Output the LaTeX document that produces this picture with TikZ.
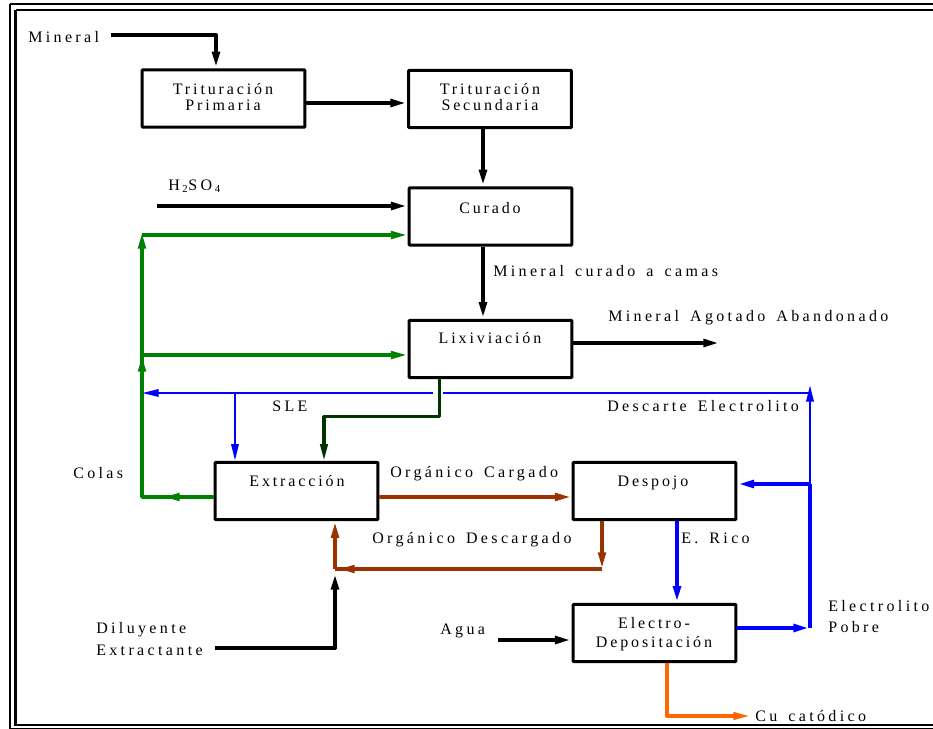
\documentclass[tikz,border=0pt]{standalone}
\usepackage{fontspec}
\setmainfont{Liberation Serif}[LetterSpace=18]
\newfontfamily\lblfont{Liberation Serif}[LetterSpace=21,WordSpace=1.5]
\usetikzlibrary{arrows.meta,calc}
\definecolor{cgreen}{RGB}{0,128,0}
\definecolor{dgreen}{RGB}{0,51,0}
\definecolor{cblue}{RGB}{0,0,255}
\definecolor{cbrown}{RGB}{153,51,0}
\definecolor{corange}{RGB}{255,102,0}
\begin{document}
\begin{tikzpicture}[x=0.75pt,y=-0.75pt,
  box/.style={draw, line width=2.3pt, minimum width=122pt, minimum height=43pt, inner sep=0pt, rounded corners=0.6pt},
  txt/.style={font=\fontsize{12}{14}\selectfont, inner sep=0pt, anchor=base},
  lbl/.style={font=\lblfont\fontsize{12}{14}\selectfont, inner sep=0pt, anchor=base west},
  tip/.style={-{Triangle[length=12.5pt,width=5.5pt]}},
  flow/.style={line width=3pt, line join=round, tip},
  gflow/.style={draw=cgreen, line width=2.7pt, line join=round},
  dgflow/.style={draw=dgreen, line width=2.3pt, line join=round},
  bthick/.style={draw=cblue, line width=3pt, line join=round},
  bthin/.style={draw=cblue, line width=1.1pt},
  brflow/.style={draw=cbrown, line width=2.8pt, line join=round},
  orflow/.style={draw=corange, line width=2.5pt, line join=round}
]
\useasboundingbox (0,0) rectangle (933,729);
\clip (0,0) rectangle (933,729);
% frame
\draw[line width=0.9pt] (10,4) -- (960,4);
\draw[line width=0.9pt] (10,4) -- (10,728.3) -- (960,728.3);
\draw[line width=1.6pt] (15.5,10) -- (960,10);
\draw[line width=1.6pt] (15.5,10) -- (15.5,725) -- (960,725);

% boxes
\node[box] (tp) at (223.5,98.5) {};
\node[box] (ts) at (490,99) {};
\node[box] (cur) at (490.5,216.5) {};
\node[box] (lix) at (490.5,349) {};
\node[box] (ext) at (296.5,491) {};
\node[box] (desp) at (654.5,491) {};
\node[box] (ed) at (654.5,633) {};

% box texts
\node[txt] (tp1) at (223,94) {Trituración};
\node[txt] (tp2) at (223,110.5) {Primaria};
\node[txt] (ts1) at (490,94) {Trituración};
\node[txt] (ts2) at (490,110.5) {Secundaria};
\node[txt] (cur1) at (490,213) {Curado};
\node[txt] (lix1) at (490,343) {Lixiviación};
\node[txt] (ext1) at (297,486) {Extracción};
\node[txt] (desp1) at (653,486) {Despojo};
\node[txt] (ed1) at (654,628) {Electro-};
\node[txt] (ed2) at (654,647) {Depositación};

% labels
\node[lbl] (lmin) at (28,42) {Mineral};
\node[lbl] (lh2) at (168,190) {H\,\textsubscript{2}SO\,\textsubscript{4}};
\node[lbl] (lcam) at (493,276) {Mineral curado a camas};
\node[lbl] (lago) at (608,321) {Mineral Agotado Abandonado};
\node[lbl] (lsle) at (272,411) {SLE};
\node[lbl] (ldes) at (607,411) {Descarte Electrolito};
\node[lbl] (lcol) at (73,478) {Colas};
\node[lbl] (lorc) at (390,477) {Orgánico Cargado};
\node[lbl] (lord) at (372,543) {Orgánico Descargado};
\node[lbl] (lric) at (681,543) {E. Rico};
\node[lbl] (ldil) at (96,633) {Diluyente};
\node[lbl] (lext) at (96,655) {Extractante};
\node[lbl] (lagu) at (440,634) {Agua};
\node[lbl] (lel1) at (828,611) {Electrolito};
\node[lbl] (lel2) at (828,632) {Pobre};
\node[lbl] (lcu) at (755,721) {Cu catódico};

% coordinates for free ends and junctions
\coordinate (minS) at (111,35);
\coordinate (minT) at (216,35);
\coordinate (h2S) at (157,206);
\coordinate (lixOut) at (720,343);
\coordinate (gL) at (142,497);
\coordinate (gA) at (163,497);
\coordinate (gM) at (142,355);
\coordinate (gT) at (142,232);
\coordinate (gC) at (142,235);
\coordinate (bR) at (810,393);
\coordinate (bL) at (142,393);
\coordinate (bJ) at (810,484);
\coordinate (bB) at (810,628);
\coordinate (bTop) at (810,385);
\coordinate (brC) at (602,569);
\coordinate (brA) at (338,569);
\coordinate (brL) at (335,569);
\coordinate (dilS) at (215,648);
\coordinate (dilC) at (335,648);
\coordinate (dilT) at (335,573);
\coordinate (aguS) at (498,640);
\coordinate (cuE) at (750,716);

% black flows
\draw[flow] (minS) -- (minT) -- (minT |- tp.north);
\draw[flow] ($(tp.east)+(0,4.5)$) -- ($(ts.west)+(0,4)$);
\draw[flow] ($(ts.south)+(-7,0)$) -- ($(cur.north)+(-7.5,0)$);
\draw[flow] (h2S) -- (h2S -| cur.west);
\draw[flow] ($(cur.south)+(-7.5,0)$) -- ($(lix.north)+(-7.5,0)$);
\draw[flow] ($(lix.east)+(0,-6)$) -- (lixOut);
\draw[flow] (dilS) -- (dilC) -- (dilT);
\draw[flow] (aguS) -- (aguS -| ed.west);

% green
\draw[gflow] ($(ext.west)+(0,6)$) -- (gL) -- (gM);
\draw[gflow, tip] ($(ext.west)+(0,6)$) -- (gA);
\draw[gflow, tip] (gL) -- (gM);
\draw[gflow, tip] (gM) -- (gT);
\draw[gflow, tip] (gM) -- (gM -| lix.west);
\draw[gflow, tip] (gC) -- (gC -| cur.west);

% dark green
\draw[dgflow, tip] ($(lix.south)+(-51,0)$) |- ($(ext.north)+(27.5,-44)$) -- ($(ext.north)+(27.5,0)$);

% blue
\draw[bthin] (bR) -- (443,393);
\draw[bthin, line width=1.7pt, tip] (433,393) -- (bL);
\draw[bthin, line width=1.7pt, tip] (235,393) -- (235,393 |- ext.north);
\draw[bthick, tip] ($(ed.east)+(0,-5)$) -- (bB);
\draw[bthick] (bB) -- (bJ);
\draw[bthick, tip] (bJ) -- (bJ -| desp.east);
\draw[bthin, line width=1.8pt, tip] (bJ) -- (bTop);
\draw[bthick, tip] ($(desp.south)+(22.5,0)$) -- ($(ed.north)+(22.5,0)$);

% brown
\draw[brflow, tip] ($(ext.east)+(0,6)$) -- ($(desp.west)+(0,6)$);
\draw[brflow, tip] ($(desp.south)+(-52.5,0)$) -- (brC);
\draw[brflow] (brC) -- (brL);
\draw[brflow, tip] (brC) -- (brA);
\draw[brflow, tip] (brL) -- (brL |- ext.south);

% orange
\draw[orflow, tip] ($(ed.south)+(12.5,0)$) |- (cuE);
\end{tikzpicture}
\end{document}
